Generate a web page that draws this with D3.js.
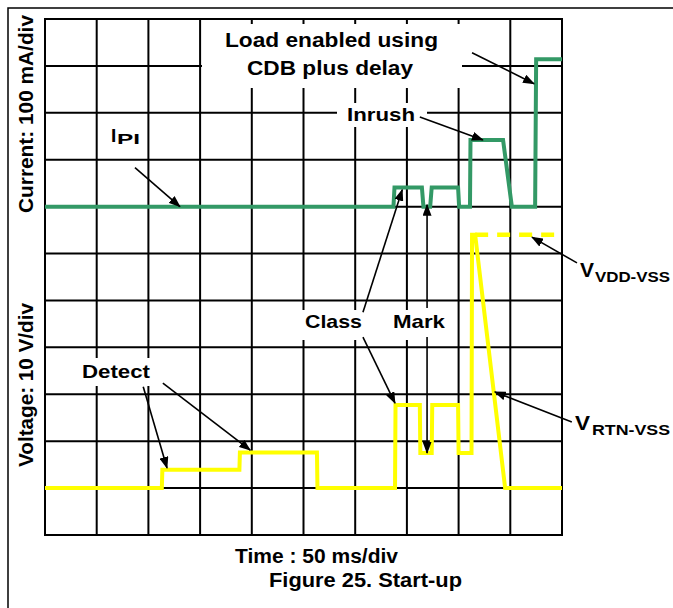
<!DOCTYPE html>
<html>
<head>
<meta charset="utf-8">
<script src="https://cdn.jsdelivr.net/npm/d3@7"></script>
<style>
  body { margin: 0; background: #fff; }
  text { font-family: Arial, "Liberation Sans", sans-serif; font-weight: bold; fill: #000; }
</style>
</head>
<body>
<div id="chart"></div>
<script>
// trace values, x in divisions (50 ms/div), y in divisions from the bottom
var currentX = [0, 6.74, 6.76, 7.29, 7.32, 7.45, 7.48, 7.99, 8.01, 8.22, 8.23, 8.86, 9.03, 9.48, 9.5, 10];
var currentY = [7, 7, 7.41, 7.41, 7.0, 7.0, 7.41, 7.41, 7.0, 7.0, 8.42, 8.42, 7.0, 7.0, 10.14, 10.14];

var voltX = [0, 2.26, 2.27, 3.76, 3.77, 5.26, 5.27, 6.77, 6.78, 7.25, 7.26, 7.48, 7.49, 7.99, 8.0, 8.25, 8.26, 8.32, 8.9, 10];
var voltY = [1, 1, 1.39, 1.39, 1.76, 1.76, 1.0, 1.0, 2.77, 2.77, 1.75, 1.75, 2.77, 2.77, 1.75, 1.75, 6.4, 6.4, 1.0, 1.0];

var vddX = [8.32, 10];
var vddY = [6.4, 6.4];

var xDivs = 10, yDivs = 11;

var width = 673, height = 608;
var pLeft = 45, pRight = 562, pTop = 19, pBottom = 535;

var svg = d3.select("#chart").append("svg")
    .attr("width", width)
    .attr("height", height);

var x = d3.scaleLinear().domain([0, xDivs]).range([pLeft, pRight]);
var y = d3.scaleLinear().domain([0, yDivs]).range([pBottom, pTop]);

svg.append("defs").append("marker")
    .attr("id", "head")
    .attr("markerUnits", "userSpaceOnUse")
    .attr("markerWidth", 12)
    .attr("markerHeight", 9)
    .attr("refX", 11)
    .attr("refY", 4.5)
    .attr("orient", "auto")
    .append("path")
    .attr("d", "M0,0 L12,4.5 L0,9 Z")
    .attr("fill", "#000");

// page frame
svg.append("path")
    .attr("d", "M8,608 L8,8 L673,8")
    .attr("fill", "none")
    .attr("stroke", "#000")
    .attr("stroke-width", 1.5);

// grid
var grid = svg.append("g");
grid.selectAll(".vx")
    .data(d3.range(0, xDivs + 1))
    .enter().append("line")
    .attr("x1", function(d){ return x(d); })
    .attr("x2", function(d){ return x(d); })
    .attr("y1", pTop)
    .attr("y2", pBottom)
    .attr("stroke", "#000")
    .attr("stroke-width", 2);
grid.selectAll(".hy")
    .data(d3.range(0, yDivs + 1))
    .enter().append("line")
    .attr("y1", function(d){ return y(d); })
    .attr("y2", function(d){ return y(d); })
    .attr("x1", pLeft - 1)
    .attr("x2", pRight + 1)
    .attr("stroke", "#000")
    .attr("stroke-width", 2);

// white label boxes over the grid
var boxes = [
    [202, 24, 260, 64],   // load enabled
    [337, 103, 90, 24],   // inrush
    [99, 122, 48, 26],    // IPI
    [298, 310, 159, 30],  // class / mark
    [78, 358, 76, 28]     // detect
];
svg.selectAll(".box")
    .data(boxes)
    .enter().append("rect")
    .attr("x", function(d){ return d[0]; })
    .attr("y", function(d){ return d[1]; })
    .attr("width", function(d){ return d[2]; })
    .attr("height", function(d){ return d[3]; })
    .attr("fill", "#fff");

var line = d3.line()
    .x(function(d){ return x(d[0]); })
    .y(function(d){ return y(d[1]); });

svg.append("path")
    .attr("d", line(d3.zip(voltX, voltY)))
    .attr("fill", "none")
    .attr("stroke", "#ffff00")
    .attr("stroke-width", 4)
    .attr("stroke-linejoin", "miter");

svg.append("path")
    .attr("d", line(d3.zip(vddX, vddY)))
    .attr("fill", "none")
    .attr("stroke", "#ffff00")
    .attr("stroke-width", 4.5)
    .attr("stroke-dasharray", "13,9");

svg.append("path")
    .attr("d", line(d3.zip(currentX, currentY)))
    .attr("fill", "none")
    .attr("stroke", "#339966")
    .attr("stroke-width", 4)
    .attr("stroke-linejoin", "miter");

// arrows: [x1, y1, x2, y2] in divisions, tip at the second point
var arrows = [
    [1.74, 7.83, 2.61, 7.0],
    [8.26, 10.28, 9.46, 9.62],
    [7.25, 8.91, 8.47, 8.42],
    [6.15, 4.75, 6.91, 7.36],
    [6.15, 4.22, 6.77, 2.81],
    [7.39, 4.84, 7.39, 7.04],
    [7.39, 4.22, 7.39, 1.75],
    [1.90, 3.16, 2.36, 1.43],
    [2.28, 3.24, 3.97, 1.81],
    [10.29, 5.80, 9.42, 6.35],
    [10.19, 2.41, 8.70, 3.05]
];
svg.selectAll(".arrow")
    .data(arrows)
    .enter().append("line")
    .attr("x1", function(d){ return x(d[0]); })
    .attr("y1", function(d){ return y(d[1]); })
    .attr("x2", function(d){ return x(d[2]); })
    .attr("y2", function(d){ return y(d[3]); })
    .attr("stroke", "#000")
    .attr("stroke-width", 1.6)
    .attr("marker-end", "url(#head)");

function label(txt, px, py, size, len) {
    var t = svg.append("text")
        .attr("x", px)
        .attr("y", py)
        .attr("font-size", size + "px")
        .text(txt);
    if (len) t.attr("textLength", len).attr("lengthAdjust", "spacingAndGlyphs");
    return t;
}

label("Load enabled using", 225, 47, 20, 213);
label("CDB plus delay", 247, 75, 20, 166);
label("Inrush", 347, 121, 19, 68);
label("I", 111, 142, 19);
label("PI", 117, 144, 15, 23);
label("Class", 305, 328, 19, 57);
label("Mark", 393, 328, 19, 52);
label("Detect", 82, 378, 19, 68);

label("V", 580, 277, 21, 14);
label("VDD-VSS", 595, 282, 15, 75);
label("V", 575, 430, 21, 15);
label("RTN-VSS", 592, 435, 15, 78);

label("Time : 50 ms/div", 235, 563, 20, 163);
label("Figure 25. Start-up", 269, 587, 20, 193);

svg.append("text")
    .attr("transform", "translate(33,213) rotate(-90)")
    .attr("font-size", "21px")
    .attr("textLength", 198)
    .attr("lengthAdjust", "spacingAndGlyphs")
    .text("Current: 100 mA/div");

svg.append("text")
    .attr("transform", "translate(33,467) rotate(-90)")
    .attr("font-size", "21px")
    .attr("textLength", 164)
    .attr("lengthAdjust", "spacingAndGlyphs")
    .text("Voltage: 10 V/div");
</script>
</body>
</html>
